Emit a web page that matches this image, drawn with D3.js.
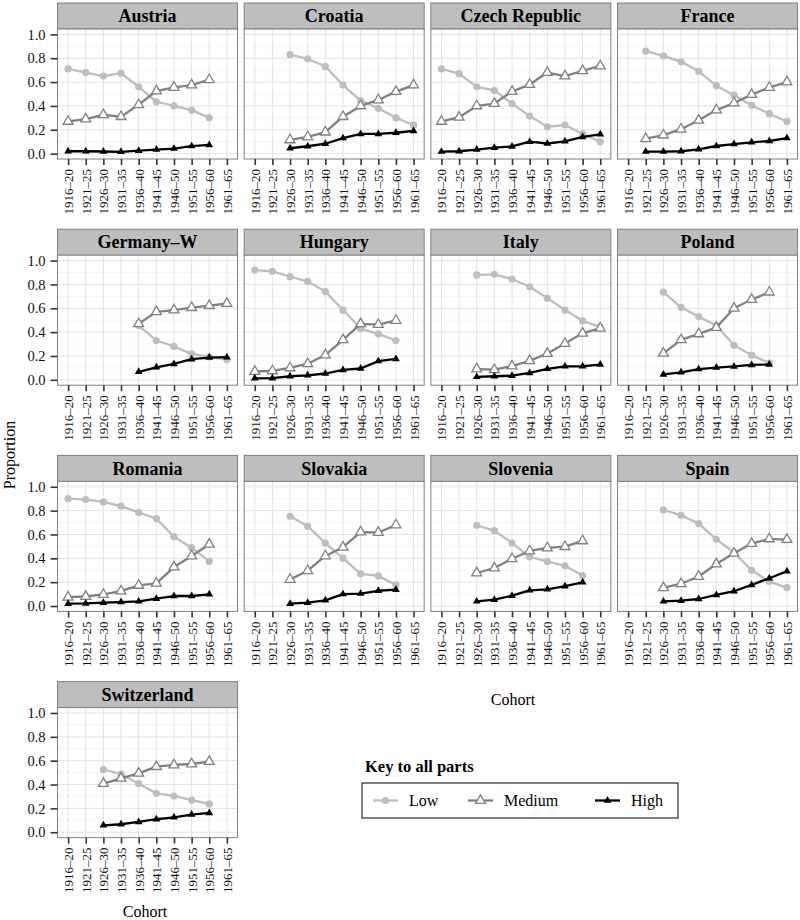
<!DOCTYPE html>
<html><head><meta charset="utf-8">
<script src="https://cdn.jsdelivr.net/npm/d3@7"></script>
<style>body{margin:0;background:#fff}svg{display:block}text{font-family:"Liberation Serif","DejaVu Serif",serif}</style>
</head><body>
<script>
const cohorts = ["1916–20","1921–25","1926–30","1931–35","1936–40","1941–45","1946–50","1951–55","1956–60","1961–65"];
const countries = ["Austria","Croatia","Czech Republic","France","Germany–W","Hungary","Italy","Poland","Romania","Slovakia","Slovenia","Spain","Switzerland"];
const yTicks = [0,0.2,0.4,0.6,0.8,1.0];
const levels = ["Low","Medium","High"];
const N = null;
const lowValues = [
  [0.71,0.68,0.65,0.675,0.56,0.435,0.40,0.365,0.30,N],
  [N,N,0.83,0.795,0.73,0.575,0.445,0.38,0.30,0.24],
  [0.71,0.67,0.56,0.53,0.42,0.315,0.225,0.24,0.165,0.10],
  [N,0.86,0.82,0.77,0.69,0.57,0.49,0.405,0.335,0.27],
  [N,N,N,N,0.455,0.33,0.28,0.218,0.193,0.17],
  [0.92,0.91,0.865,0.825,0.74,0.585,0.43,0.385,0.33,N],
  [N,N,0.88,0.885,0.845,0.78,0.685,0.585,0.495,0.443],
  [N,N,0.735,0.608,0.53,0.455,0.29,0.207,0.14,N],
  [0.90,0.893,0.873,0.837,0.784,0.733,0.581,0.489,0.374,N],
  [N,N,0.753,0.669,0.528,0.402,0.27,0.253,0.177,N],
  [N,N,0.677,0.632,0.528,0.413,0.374,0.337,0.256,N],
  [N,N,0.806,0.761,0.691,0.559,0.449,0.30,0.205,0.154],
  [N,N,0.526,0.487,0.407,0.326,0.304,0.27,0.237,N]
];
const mediumValues = [
  [0.27,0.29,0.325,0.31,0.41,0.525,0.555,0.575,0.62,N],
  [N,N,0.115,0.14,0.18,0.31,0.40,0.45,0.52,0.575],
  [0.27,0.305,0.40,0.42,0.52,0.58,0.68,0.65,0.695,0.735],
  [N,0.125,0.155,0.205,0.28,0.365,0.425,0.495,0.555,0.60],
  [N,N,N,N,0.47,0.57,0.585,0.605,0.622,0.64],
  [0.07,0.075,0.10,0.135,0.208,0.335,0.47,0.463,0.498,N],
  [N,N,0.09,0.085,0.115,0.16,0.22,0.305,0.39,0.433],
  [N,N,0.222,0.335,0.385,0.438,0.60,0.673,0.735,N],
  [0.074,0.08,0.097,0.125,0.173,0.19,0.327,0.42,0.518,N],
  [N,N,0.223,0.296,0.42,0.493,0.62,0.616,0.68,N],
  [N,N,0.277,0.319,0.397,0.462,0.487,0.498,0.546,N],
  [N,N,0.153,0.187,0.248,0.352,0.442,0.524,0.563,0.557],
  [N,N,0.408,0.452,0.494,0.55,0.564,0.572,0.592,N]
];
const highValues = [
  [0.02,0.02,0.018,0.015,0.025,0.034,0.042,0.063,0.073,N],
  [N,N,0.045,0.062,0.083,0.13,0.165,0.165,0.175,0.19],
  [0.017,0.02,0.034,0.05,0.06,0.10,0.085,0.103,0.14,0.162],
  [N,0.017,0.017,0.02,0.036,0.064,0.08,0.095,0.106,0.13],
  [N,N,N,N,0.067,0.105,0.133,0.173,0.187,0.19],
  [0.013,0.014,0.03,0.038,0.053,0.083,0.095,0.157,0.175,N],
  [N,N,0.025,0.03,0.035,0.058,0.092,0.113,0.114,0.128],
  [N,N,0.045,0.063,0.09,0.103,0.112,0.125,0.128,N],
  [0.02,0.022,0.028,0.033,0.039,0.062,0.084,0.084,0.098,N],
  [N,N,0.02,0.028,0.048,0.1,0.104,0.128,0.137,N],
  [N,N,0.039,0.053,0.087,0.132,0.14,0.166,0.199,N],
  [N,N,0.039,0.045,0.059,0.093,0.124,0.177,0.233,0.292],
  [N,N,0.058,0.067,0.086,0.109,0.125,0.148,0.162,N]
];

const W = 800, H = 920;
const svg = d3.select("body").append("svg").attr("width", W).attr("height", H);
const colLeft = 57.5, colStep = 186.67, panelW = 180;
const rowTop = 3, rowStep = 226.2, stripH = 26, plotH = 130;
const colors = {Low:"#BDBDBD", Medium:"#808080", High:"#000000"};
const seriesList = [
  {key:"Low", vals:lowValues},
  {key:"Medium", vals:mediumValues},
  {key:"High", vals:highValues}
];

const x = d3.scalePoint().domain(cohorts).range([0, panelW]).padding(0.6);
const y = d3.scaleLinear().domain([-0.045, 1.045]).range([plotH, 0]);
const minorTicks = [0.1,0.3,0.5,0.7,0.9];

function drawMarker(g, key, cx, cy) {
  if (key === "Low") {
    g.append("circle").attr("cx", cx).attr("cy", cy).attr("r", 3.6).attr("fill", colors.Low);
  } else if (key === "Medium") {
    g.append("path").attr("d", d3.symbol(d3.symbolTriangle, 42)()).attr("transform", `translate(${cx},${cy})`)
      .attr("fill", "#fff").attr("stroke", colors.Medium).attr("stroke-width", 1.3);
  } else {
    g.append("path").attr("d", d3.symbol(d3.symbolTriangle, 26)()).attr("transform", `translate(${cx},${cy})`)
      .attr("fill", "#000");
  }
}

countries.forEach((name, i) => {
  const col = i % 4, row = Math.floor(i / 4);
  const px = colLeft + col * colStep, py = rowTop + row * rowStep;
  const g = svg.append("g").attr("transform", `translate(${px},${py})`);
  // strip
  g.append("rect").attr("x", 0).attr("y", 0).attr("width", panelW).attr("height", stripH)
    .attr("fill", "#BEBEBE").attr("stroke", "#7F7F7F").attr("stroke-width", 1);
  g.append("text").attr("x", panelW/2).attr("y", stripH/2).attr("dy", "0.35em")
    .attr("text-anchor", "middle").attr("font-weight", "bold").attr("font-size", 18).text(name);
  const p = g.append("g").attr("transform", `translate(0,${stripH})`);
  p.append("rect").attr("width", panelW).attr("height", plotH).attr("fill", "#fff");
  p.selectAll(".minor").data(minorTicks).join("line")
    .attr("x1", 0).attr("x2", panelW).attr("y1", d => y(d)).attr("y2", d => y(d))
    .attr("stroke", "#F2F2F2").attr("stroke-width", 0.8);
  p.selectAll(".majh").data(yTicks).join("line")
    .attr("x1", 0).attr("x2", panelW).attr("y1", d => y(d)).attr("y2", d => y(d))
    .attr("stroke", "#E3E3E3").attr("stroke-width", 1);
  p.selectAll(".majv").data(cohorts).join("line")
    .attr("x1", d => x(d)).attr("x2", d => x(d)).attr("y1", 0).attr("y2", plotH)
    .attr("stroke", "#E3E3E3").attr("stroke-width", 1);

  seriesList.forEach(s => {
    const vals = s.vals[i];
    const pts = cohorts.map((c, k) => ({c, v: vals[k]}));
    const line = d3.line().defined(d => d.v !== null).x(d => x(d.c)).y(d => y(d.v));
    p.append("path").attr("d", line(pts)).attr("fill", "none")
      .attr("stroke", colors[s.key]).attr("stroke-width", 2.3).attr("stroke-linejoin", "round");
    pts.filter(d => d.v !== null).forEach(d => drawMarker(p, s.key, x(d.c), y(d.v)));
  });

  p.append("rect").attr("width", panelW).attr("height", plotH).attr("fill", "none")
    .attr("stroke", "#7F7F7F").attr("stroke-width", 1);

  // x axis
  const xa = p.append("g").attr("transform", `translate(0,${plotH})`)
    .call(d3.axisBottom(x).tickSize(6).tickSizeOuter(0).tickPadding(4));
  xa.select(".domain").remove();
  xa.selectAll(".tick line").attr("stroke", "#333").attr("stroke-width", 1.6);
  xa.selectAll(".tick text").attr("font-family", "Liberation Serif").attr("font-size", 13).attr("fill", "#111")
    .attr("transform", "rotate(-90)").attr("text-anchor", "end")
    .attr("x", -10).attr("y", 0).attr("dy", "0.35em");

  if (col === 0) {
    const ya = p.append("g").call(d3.axisLeft(y).tickValues(yTicks).tickFormat(d3.format(".1f")).tickSize(7).tickSizeOuter(0).tickPadding(5));
    ya.select(".domain").remove();
    ya.selectAll(".tick line").attr("stroke", "#333").attr("stroke-width", 1.6);
    ya.selectAll(".tick text").attr("font-family", "Liberation Serif").attr("font-size", 14.5).attr("fill", "#111");
  }
});

// axis titles
svg.append("text").attr("x", 513).attr("y", 705).attr("text-anchor", "middle").attr("font-size", 16).text("Cohort");
svg.append("text").attr("x", 145).attr("y", 917).attr("text-anchor", "middle").attr("font-size", 16).text("Cohort");
svg.append("text").attr("transform", "translate(15,455) rotate(-90)").attr("text-anchor", "middle").attr("font-size", 16).text("Proportion");

// legend
const lg = svg.append("g");
lg.append("text").attr("x", 365).attr("y", 772).attr("font-weight", "bold").attr("font-size", 16.5).text("Key to all parts");
lg.append("rect").attr("x", 362).attr("y", 783).attr("width", 316).attr("height", 35)
  .attr("fill", "#fff").attr("stroke", "#000").attr("stroke-width", 1);
const legX = [373, 468, 595];
levels.forEach((k, j) => {
  const lx = legX[j], ly = 800.5;
  lg.append("line").attr("x1", lx).attr("x2", lx + 25).attr("y1", ly).attr("y2", ly)
    .attr("stroke", colors[k]).attr("stroke-width", 2.3);
  drawMarker(lg, k, lx + 12.5, ly);
  lg.append("text").attr("x", lx + 36).attr("y", ly).attr("dy", "0.35em").attr("font-size", 16).text(k);
});
</script>
</body></html>
